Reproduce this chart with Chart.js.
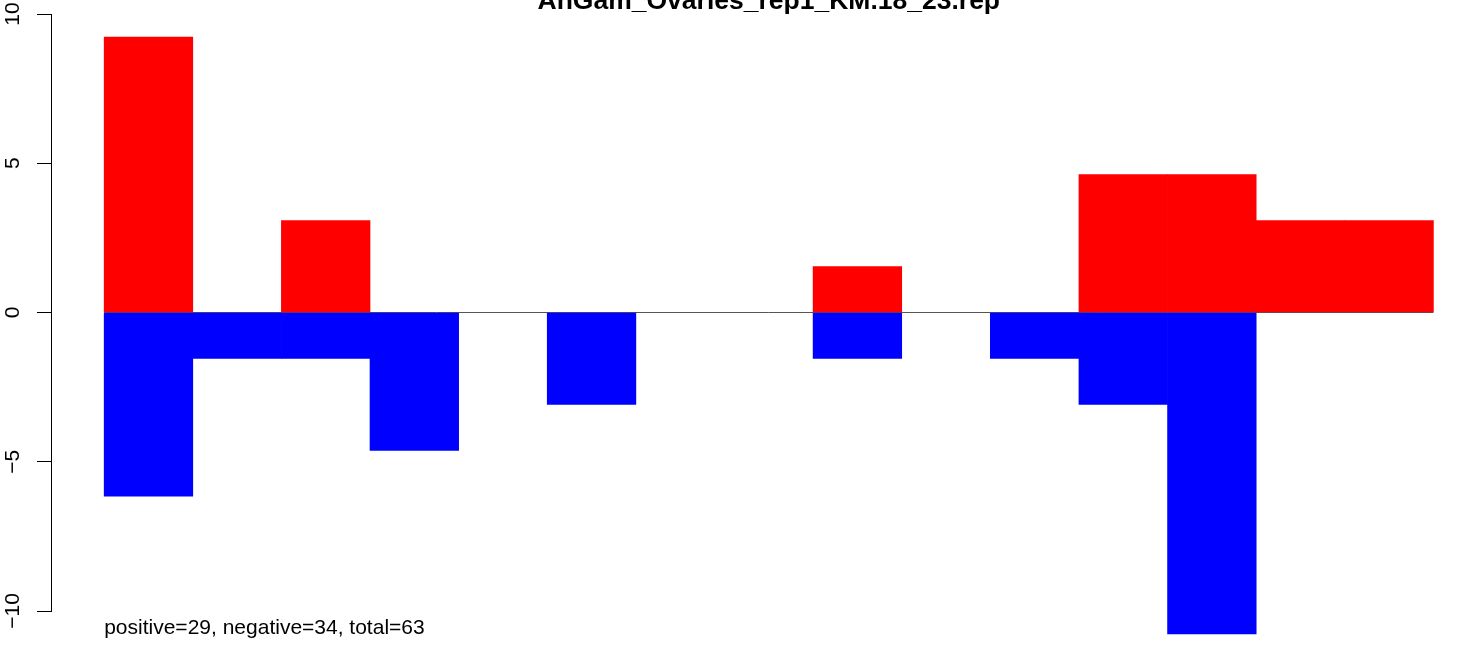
<!DOCTYPE html>
<html>
<head>
<meta charset="utf-8">
<title>AnGam_Ovaries_rep1_KM.18_23.rep</title>
<script src="https://cdn.jsdelivr.net/npm/chart.js@4.4.1/dist/chart.umd.min.js"></script>
<style>
  html, body { margin: 0; padding: 0; background: #fff; }
  #wrap { width: 1460px; height: 645px; position: relative; }
</style>
</head>
<body>
<div id="wrap"><canvas id="grafico"></canvas></div>
<script>
// Valores (percentual por posição)
const titulo = "AnGam_Ovaries_rep1_KM.18_23.rep";
const rodape = "positive=29, negative=34, total=63";
const posicoes = [1, 2, 3, 4, 5, 6, 7, 8, 9, 10, 11, 12, 13, 14, 15];
const positivos = [9.23, null, 3.08, null, null, null, null, null, 1.54, null, null, 4.62, 4.62, 3.08, 3.08];
const negativos = [-6.15, -1.54, -1.54, -4.62, null, -3.08, null, null, -1.54, null, -1.54, -3.08, -10.77, null, null];
const ticksY = [-10, -5, 0, 5, 10];

const fonte = "'Liberation Sans', Arial, Helvetica, sans-serif";

const pontos = (valores) => posicoes.map((p, i) => ({ x: p, y: valores[i] }));

// título e texto de rodapé desenhados no canvas
const textosR = {
  id: "textosR",
  afterDraw(chart) {
    const { ctx, scales } = chart;
    const x = scales.x;
    ctx.save();
    ctx.fillStyle = "#000";
    ctx.textBaseline = "alphabetic";
    ctx.font = "bold 26.5px " + fonte;
    ctx.textAlign = "center";
    const meio = (posicoes[0] + posicoes[posicoes.length - 1]) / 2;
    ctx.fillText(titulo, x.getPixelForValue(meio), 9);
    ctx.font = "21px " + fonte;
    ctx.textAlign = "left";
    ctx.fillText(rodape, x.getPixelForValue(posicoes[0] - 0.5), 634);
    ctx.restore();
  }
};

new Chart(document.getElementById("grafico").getContext("2d"), {
  type: "bar",
  data: {
    datasets: [
      {
        type: "line",
        data: [
          { x: posicoes[0] - 0.5, y: 0 },
          { x: posicoes[posicoes.length - 1] + 0.5, y: 0 }
        ],
        borderColor: "#555555",
        borderWidth: 1,
        pointRadius: 0,
        order: 3
      },
      {
        data: pontos(positivos),
        backgroundColor: "#ff0000",
        borderWidth: 0,
        barPercentage: 1,
        categoryPercentage: 1,
        clip: false,
        order: 1
      },
      {
        data: pontos(negativos),
        backgroundColor: "#0000ff",
        borderWidth: 0,
        barPercentage: 1,
        categoryPercentage: 1,
        clip: false,
        order: 1
      }
    ]
  },
  options: {
    responsive: true,
    maintainAspectRatio: false,
    animation: false,
    layout: { padding: { left: 0, right: 0, top: 14, bottom: 34 } },
    plugins: {
      legend: { display: false },
      tooltip: { enabled: false },
      title: { display: false }
    },
    scales: {
      x: {
        type: "linear",
        stacked: true,
        offset: false,
        min: -0.1,
        max: 15.8,
        display: false
      },
      y: {
        stacked: true,
        min: -10,
        max: 10,
        afterBuildTicks(scale) {
          scale.ticks = ticksY.map((v) => ({ value: v }));
        },
        afterFit(scale) {
          scale.width = 51;
          scale.paddingTop = 0;
          scale.paddingBottom = 0;
        },
        border: { display: true, color: "#000", width: 1 },
        grid: {
          drawOnChartArea: false,
          drawTicks: true,
          tickLength: 14,
          color: "#000",
          lineWidth: 1
        },
        ticks: {
          minRotation: 90,
          maxRotation: 90,
          crossAlign: "center",
          padding: 6,
          color: "#000",
          font: { family: fonte, size: 21 },
          callback: (v) => (v < 0 ? "\u2212" + Math.abs(v) : String(v))
        }
      }
    }
  },
  plugins: [textosR]
});
</script>
</body>
</html>
